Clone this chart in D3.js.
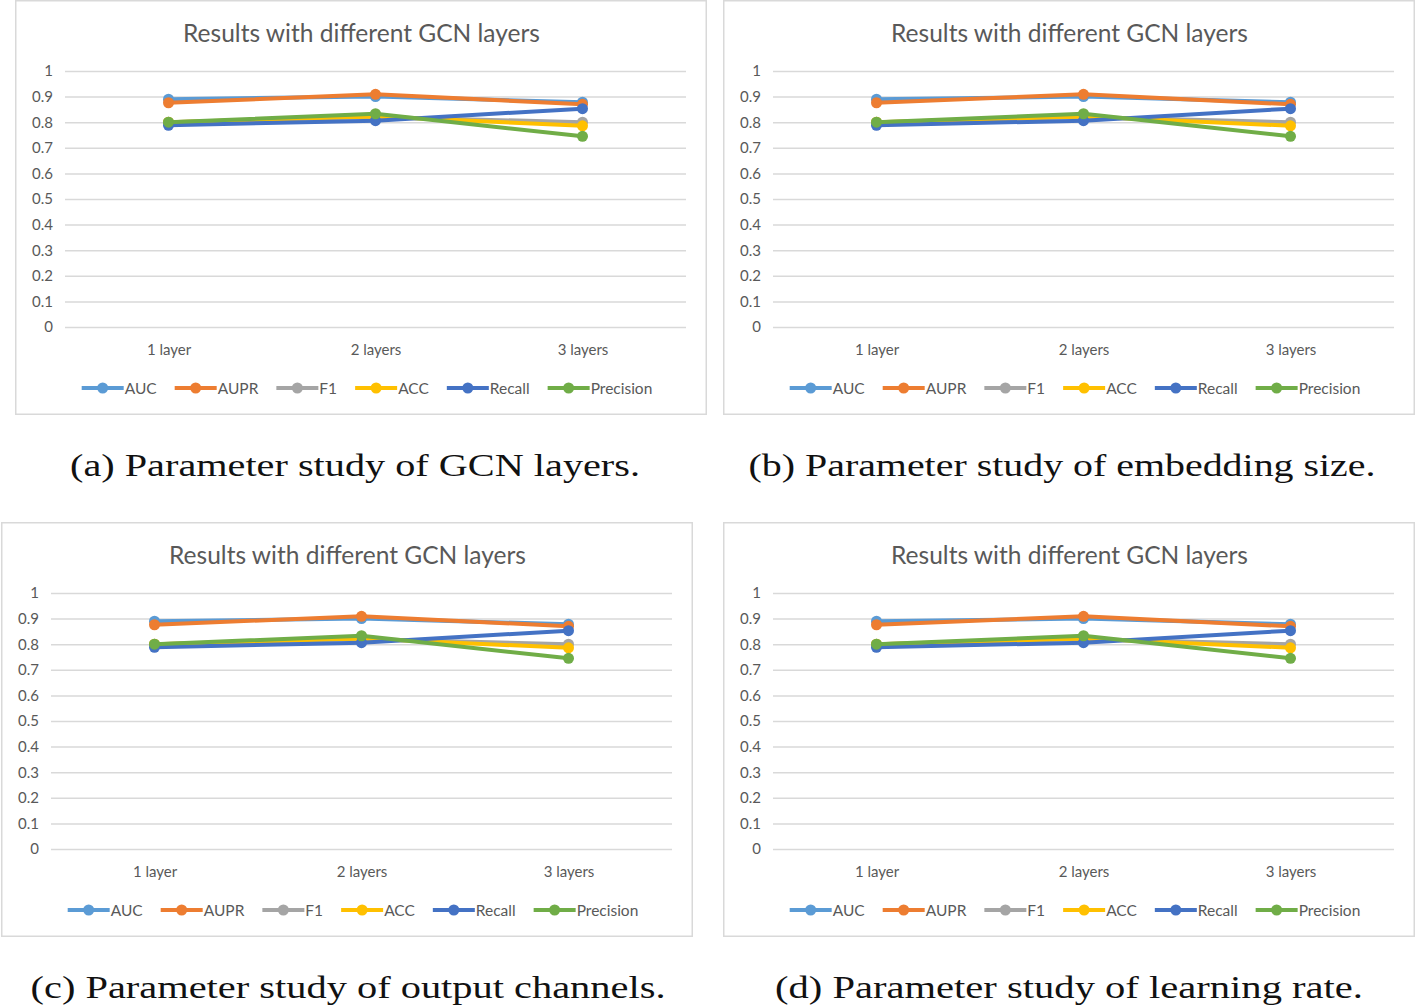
<!DOCTYPE html>
<html>
<head>
<meta charset="utf-8">
<script src="https://cdn.jsdelivr.net/npm/d3@7"></script>
<style>
  html, body { margin: 0; padding: 0; background: #ffffff; }
  svg { display: block; }
</style>
</head>
<body>
<svg id="chart" width="1415" height="1008"></svg>
<script>
// ---------------- data ----------------
const categories = ["1 layer", "2 layers", "3 layers"];
const seriesNames = ["AUC", "AUPR", "F1", "ACC", "Recall", "Precision"];
const aucValues = [0.890, 0.900, 0.878];
const auprValues = [0.876, 0.909, 0.870];
const f1Values = [0.800, 0.820, 0.800];
const accValues = [0.800, 0.822, 0.786];
const recallValues = [0.788, 0.806, 0.853];
const precisionValues = [0.800, 0.833, 0.745];
const yTickValues = [0, 0.1, 0.2, 0.3, 0.4, 0.5, 0.6, 0.7, 0.8, 0.9, 1];
const chartTitle = "Results with different GCN layers";
const captions = [
  "(a) Parameter study of GCN layers.",
  "(b) Parameter study of embedding size.",
  "(c) Parameter study of output channels.",
  "(d) Parameter study of learning rate."
];

const seriesValues = [aucValues, auprValues, f1Values, accValues, recallValues, precisionValues];
const seriesColors = ["#5B9BD5", "#ED7D31", "#A5A5A5", "#FFC000", "#4472C4", "#70AD47"];

// ---------------- layout ----------------
const panels = [
  { x: 15, y: 0, capX: 355, capY: 476, capW: 570 },
  { x: 723, y: 0, capX: 1062, capY: 476, capW: 627 },
  { x: 1, y: 522, capX: 348, capY: 998, capW: 635 },
  { x: 723, y: 522, capX: 1069, capY: 998, capW: 588 }
];
const boxW = 692, boxH = 415;
const plotLeft = 50, plotW = 621, plotTop = 71, plotBottom = 327;
const uiFont = "Lato, 'Open Sans', sans-serif";
const textColor = "#595959";

const svg = d3.select("#chart");

const x = d3.scalePoint().domain(categories).range([0, plotW]).padding(0.5);
const y = d3.scaleLinear().domain([0, 1]).range([plotBottom, plotTop]);

function fitFont(sel, targetW, startSize) {
  sel.style("font-size", startSize + "px");
  const w = sel.node().getComputedTextLength();
  sel.style("font-size", (startSize * targetW / w).toFixed(2) + "px");
}

panels.forEach((p, pi) => {
  const g = svg.append("g").attr("transform", `translate(${p.x},${p.y})`);

  // border
  g.append("rect")
    .attr("x", 0.75).attr("y", 0.75)
    .attr("width", boxW - 1.5).attr("height", boxH - 1.5)
    .attr("fill", "#fff").attr("stroke", "#d9d9d9").attr("stroke-width", 1.5);

  // title
  const t = g.append("text")
    .attr("x", plotLeft + plotW / 2 - 14).attr("y", 32)
    .attr("text-anchor", "middle").attr("dominant-baseline", "central")
    .attr("fill", textColor).style("font-family", uiFont)
    .text(chartTitle);
  fitFont(t, 357, 21);

  const plot = g.append("g").attr("transform", `translate(${plotLeft},0)`);

  // y axis / grid
  const yAxis = d3.axisLeft(y).tickValues(yTickValues).tickSize(-plotW).tickPadding(12)
    .tickFormat(d => d3.format("")(+d.toFixed(1)));
  const ya = plot.append("g").call(yAxis);
  ya.select(".domain").remove();
  ya.selectAll(".tick line").attr("stroke", "#d9d9d9").attr("stroke-width", 1.5);
  ya.selectAll(".tick text")
    .attr("fill", textColor).style("font-family", uiFont).style("font-size", "15px");

  // x axis labels
  const xAxis = d3.axisBottom(x).tickSize(0).tickPadding(17);
  const xa = plot.append("g").attr("transform", `translate(0,${plotBottom})`).call(xAxis);
  xa.select(".domain").remove();
  xa.selectAll(".tick text")
    .attr("fill", textColor).style("font-family", uiFont).style("font-size", "15px");

  // lines
  const line = d3.line().x((d, i) => x(categories[i])).y(d => y(d));
  seriesValues.forEach((vals, si) => {
    plot.append("path")
      .datum(vals)
      .attr("d", line)
      .attr("fill", "none")
      .attr("stroke", seriesColors[si])
      .attr("stroke-width", 4)
      .attr("stroke-linejoin", "round")
      .attr("stroke-linecap", "round");
    plot.selectAll(null)
      .data(vals)
      .enter().append("circle")
      .attr("cx", (d, i) => x(categories[i]))
      .attr("cy", d => y(d))
      .attr("r", 5.5)
      .attr("fill", seriesColors[si]);
  });

  // legend
  const lg = g.append("g");
  let cx = 0;
  seriesNames.forEach((name, si) => {
    const item = lg.append("g").attr("transform", `translate(${cx},0)`);
    item.append("line").attr("x1", 0).attr("x2", 42).attr("y1", 0).attr("y2", 0)
      .attr("stroke", seriesColors[si]).attr("stroke-width", 4);
    item.append("circle").attr("cx", 21).attr("cy", 0).attr("r", 5.5).attr("fill", seriesColors[si]);
    const tx = item.append("text").attr("x", 43).attr("y", 0)
      .attr("dominant-baseline", "central")
      .attr("fill", textColor).style("font-family", uiFont).style("font-size", "15.5px")
      .text(name);
    cx += 43 + tx.node().getComputedTextLength() + 18;
  });
  const legendW = cx - 18;
  lg.attr("transform", `translate(${352 - legendW / 2},388)`);

  // caption
  svg.append("text")
    .attr("x", p.capX).attr("y", p.capY)
    .attr("text-anchor", "middle")
    .attr("fill", "#111")
    .style("font-family", "'Liberation Serif', 'DejaVu Serif', serif")
    .style("font-size", "31px")
    .attr("textLength", p.capW)
    .attr("lengthAdjust", "spacingAndGlyphs")
    .text(captions[pi]);
});
</script>
</body>
</html>
